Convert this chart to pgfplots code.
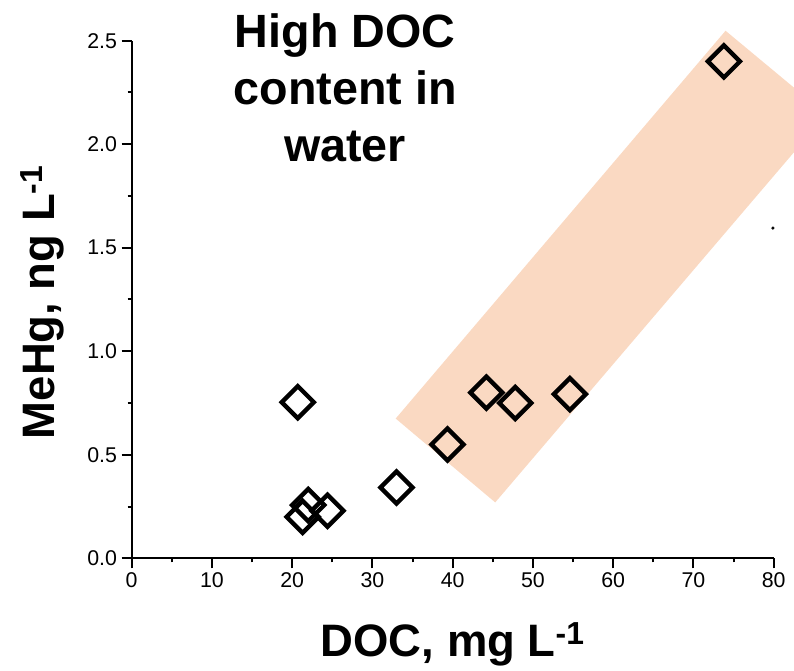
\documentclass[border=0pt]{standalone}
\usepackage{fontspec}
\setmainfont{Liberation Sans}
\usepackage{pgfplots}
\pgfplotsset{compat=1.18}
\definecolor{bandorange}{RGB}{236,118,36}

\begin{document}
\begin{tikzpicture}
  \begin{axis}[
    scale only axis,
    width=481.5pt, height=388.2pt,
    xmin=0, xmax=80, ymin=0, ymax=2.5,
    axis x line=bottom, axis y line=left,
    axis line style={-, line width=1.5pt},
    xtick={0,10,...,80},
    ytick={0,0.5,...,2.5},
    minor x tick num=1, minor y tick num=1,
    tick align=outside,
    major tick length=7.5pt, minor tick length=3pt,
    every tick/.style={black, line width=1.5pt},
    xticklabel={\fontsize{16}{19}\selectfont
      \pgfmathprintnumber[assume math mode=true]{\tick}},
    yticklabel={\fontsize{16}{19}\selectfont
      \pgfmathprintnumber[assume math mode=true, fixed, fixed zerofill, precision=1]{\tick}},
    xlabel={DOC, mg L\textsuperscript{-1}},
    ylabel={MeHg, ng L\textsuperscript{-1}},
    label style={font=\fontsize{34.1}{41}\selectfont\bfseries},
    xlabel style={at={(axis description cs:0.5,-0.190)}, anchor=base},
    ylabel style={at={(axis description cs:-0.1195,0.495)}, anchor=base},
    clip=false,
  ]
    % measured points
    \addplot[only marks, mark=square, mark size=8.5pt,
      mark options={rotate=45, fill=white, draw=black, line width=3.3pt, miter limit=4}]
      coordinates {
        (20.7,0.754) (22.0,0.257) (21.3,0.200) (24.4,0.230) (33.0,0.342)
        (39.35,0.550) (44.2,0.800) (47.8,0.750) (54.6,0.793) (73.8,2.400)
      };
    \addplot[only marks, mark=*, mark size=1pt, black]
      coordinates {(79.9,1.595)};
    % shaded band over the high-DOC points
    \addplot[draw=none, fill=bandorange, fill opacity=0.28]
      coordinates {(32.9,0.675) (45.3,0.270) (82.5,1.960) (82.5,2.274) (74.0,2.548)}
      -- cycle;
    \node[anchor=north, align=center, inner sep=0pt,
      font=\fontsize{35}{42.8}\selectfont\bfseries]
      at (axis cs:26.6,2.632) {High DOC\\content in\\water};
    \path (rel axis cs:-0.2051,-0.2023) rectangle (rel axis cs:1.0316,1.0786);
  \end{axis}
\end{tikzpicture}
\end{document}
